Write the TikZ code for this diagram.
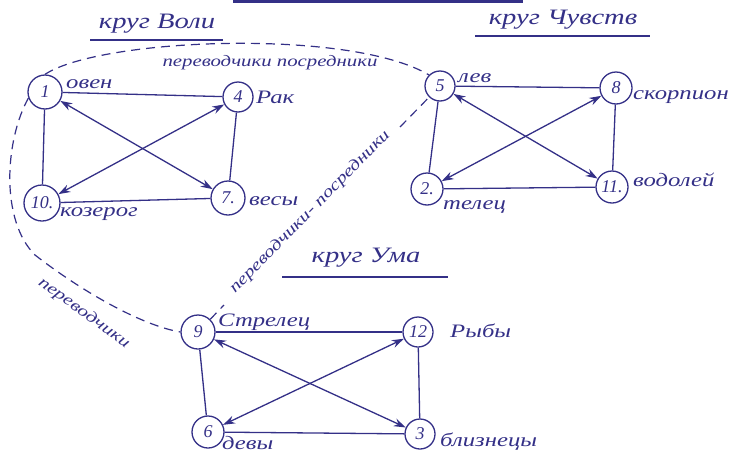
\documentclass[tikz,border=0pt]{standalone}
\usepackage{fontspec}
\setmainfont{Liberation Serif}
\newfontfamily\hand[FakeStretch=1.3]{Liberation Serif}
\usetikzlibrary{arrows.meta}
\definecolor{ink}{RGB}{52,48,135}
\begin{document}
\begin{tikzpicture}[x=1pt,y=-1pt,
  sign/.style={circle,draw=ink,line width=1.3pt,minimum size=32pt,inner sep=0pt,text=ink,font=\itshape\fontsize{18}{20}\selectfont},
  lbl/.style={text=ink,font=\hand\itshape\fontsize{19}{21}\selectfont,inner sep=0pt},
  small/.style={text=ink,font=\hand\itshape\fontsize{16}{18}\selectfont,inner sep=1pt},
  ttl/.style={text=ink,font=\hand\itshape\fontsize{22}{24}\selectfont,inner sep=0pt},
  link/.style={draw=ink,line width=1.3pt},
  biarrow/.style={link,{Stealth[length=12pt,width=8pt]}-{Stealth[length=12pt,width=8pt]}},
  dashedlink/.style={draw=ink,line width=1.2pt,dash pattern=on 9pt off 6pt},
]
\useasboundingbox (0,0) rectangle (747,461);

% fragment at top edge
\draw[ink,line width=3pt] (233,1) -- (523,1);

% titles
\node[ttl] (t1) at (157,24) {круг Воли};
\draw[link] (90,40) -- (223,40);
\node[ttl] (t2) at (563,20) {круг Чувств};
\draw[link] (475,36) -- (650,36);
\node[ttl] (t3) at (366,258) {круг Ума};
\draw[link] (282,277) -- (448,277);

% circle of Will
\node[sign,minimum size=34pt] (n1) at (45,92) {1};
\node[sign,minimum size=30pt] (n4) at (238,97) {4};
\node[sign,minimum size=36pt] (n10) at (42,203) {10.};
\node[sign,minimum size=34pt] (n7) at (228,198) {7.};
\node[lbl,anchor=base west] (l1) at (66,88) {овен};
\node[lbl,anchor=base west] (l4) at (256,103) {Рак};
\node[lbl,anchor=base west] (l10) at (60,216) {козерог};
\node[lbl,anchor=base west] (l7) at (249,205) {весы};
\draw[link] (n1) -- (n4);
\draw[link] (n1) -- (n10);
\draw[link] (n4) -- (n7);
\draw[link] (n10) -- (n7);
\draw[biarrow] (n10) -- (n4);
\draw[biarrow] (n1) -- (n7);

% circle of Feelings
\node[sign,minimum size=30pt] (n5) at (440,86) {5};
\node[sign,minimum size=32pt] (n8) at (616,88) {8};
\node[sign,minimum size=32pt] (n2) at (427,189) {2.};
\node[sign,minimum size=32pt] (n11) at (612,187) {11.};
\node[lbl,anchor=base west] (l5) at (458,82) {лев};
\node[lbl,anchor=base west] (l8) at (633,99) {скорпион};
\node[lbl,anchor=base west] (l2) at (443,209) {телец};
\node[lbl,anchor=base west] (l11) at (633,186) {водолей};
\draw[link] (n5) -- (n8);
\draw[link] (n5) -- (n2);
\draw[link] (n8) -- (n11);
\draw[link] (n2) -- (n11);
\draw[biarrow] (n2) -- (n8);
\draw[biarrow] (n5) -- (n11);

% circle of Mind
\node[sign,minimum size=34pt] (n9) at (198,332) {9};
\node[sign,minimum size=30pt] (n12) at (418,332) {12};
\node[sign,minimum size=32pt] (n6) at (208,432) {6};
\node[sign,minimum size=30pt] (n3) at (420,434) {3};
\node[lbl,anchor=base west] (l9) at (218,326) {Стрелец};
\node[lbl,anchor=base west] (l12) at (450,337) {Рыбы};
\node[lbl,anchor=base west] (l6) at (222,449) {девы};
\node[lbl,anchor=base west] (l3) at (440,446) {близнецы};
\draw[link] (n9) -- (n12);
\draw[link] (n9) -- (n6);
\draw[link] (n12) -- (n3);
\draw[link] (n6) -- (n3);
\draw[biarrow] (n6) -- (n12);
\draw[biarrow] (n9) -- (n3);

% dashed links between circles
\draw[dashedlink] (n1.north) .. controls (100,38) and (350,28) .. (n5.north west);
\node[small] (c1) at (270,63) {переводчики посредники};
\draw[dashedlink] (n1.200) .. controls (5,140) and (0,220) .. (35,255)
  .. controls (80,290) and (140,325) .. (n9.west);
\node[small,rotate=-36] (c2) at (84,313) {переводчики};
\coordinate (d1) at (224,305);
\coordinate (d2) at (400,127);
\draw[dashedlink] (n9) -- (d1);
\draw[dashedlink] (d2) -- (n5);
\node[small,rotate=45.5] (c3) at (310,212) {переводчики- посредники};
\end{tikzpicture}
\end{document}
